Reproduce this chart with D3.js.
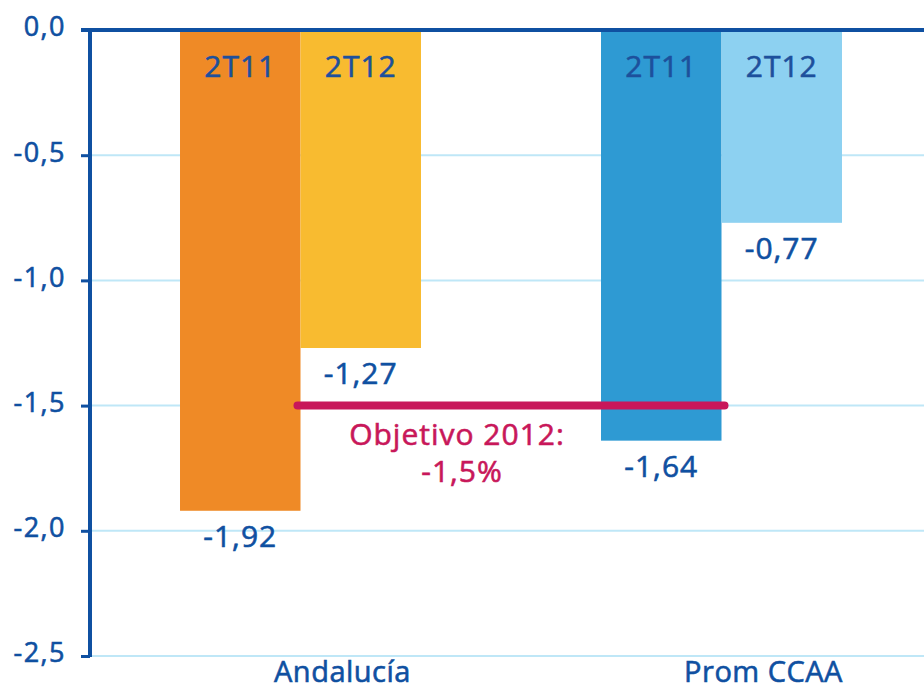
<!DOCTYPE html>
<html>
<head>
<meta charset="utf-8">
<script src="https://cdn.jsdelivr.net/npm/d3@7"></script>
<style>
  body { margin: 0; background: #fff; }
  svg { display: block; font-family: "Open Sans", "Noto Sans", sans-serif; }
  svg text { stroke-width: 0.6px; }
</style>
</head>
<body>
<div id="chart"></div>
<script>
// data
const categories = ["Andalucía", "Prom CCAA"];
const series = ["2T11", "2T12"];
const values = {
    "Andalucía": [-1.92, -1.27],
    "Prom CCAA": [-1.64, -0.77]
};
const barColors = {
    "Andalucía": ["#ef8a26", "#f8bb30"],
    "Prom CCAA": ["#2e9ad3", "#8dd1f1"]
};
const yTicks = [0, -0.5, -1.0, -1.5, -2.0, -2.5];
const target = -1.5;
const targetLabel = ["Objetivo 2012:", "-1,5%"];

const W = 924, H = 685;
const blue = "#0f50a1";
const grid = "#bfe7f7";
const magenta = "#c8175a";
const fmt = (v) => d3.format(".2f")(v).replace(".", ",").replace("−", "-");
const fmtTick = (v) => d3.format(".1f")(v).replace(".", ",").replace("−", "-");

const svg = d3.select("#chart").append("svg")
    .attr("width", W).attr("height", H);

const y = d3.scaleLinear().domain([0, -2.5]).range([30, 656]);
const x0 = d3.scaleBand().domain(categories).range([90, 932])
    .paddingInner(0.4276).paddingOuter(0.2138);
const x1 = d3.scaleBand().domain(series).range([0, x0.bandwidth()]);

// gridlines
svg.append("g").selectAll("line").data(yTicks.slice(1)).join("line")
    .attr("x1", 90).attr("x2", W)
    .attr("y1", d => y(d)).attr("y2", d => y(d))
    .attr("stroke", grid).attr("stroke-width", 2);

// bars
const groups = svg.append("g").selectAll("g").data(categories).join("g")
    .attr("transform", c => `translate(${x0(c)},0)`);

groups.selectAll("rect")
    .data(c => series.map((s, i) => ({c, s, v: values[c][i], color: barColors[c][i]})))
    .join("rect")
    .attr("x", d => x1(d.s))
    .attr("y", y(0))
    .attr("width", x1.bandwidth())
    .attr("height", d => y(d.v) - y(0))
    .attr("fill", d => d.color);

// series names inside bars
groups.selectAll("text.sname")
    .data(c => series.map(s => ({s})))
    .join("text").attr("class", "sname")
    .attr("x", d => x1(d.s) + x1.bandwidth() / 2)
    .attr("y", 77)
    .attr("text-anchor", "middle")
    .attr("font-size", 30)
    .attr("letter-spacing", 1)
    .attr("fill", "#1d509c").attr("stroke", "#1d509c")
    .text(d => d.s);

// value labels under bars
groups.selectAll("text.val")
    .data(c => series.map((s, i) => ({s, v: values[c][i]})))
    .join("text").attr("class", "val")
    .attr("x", d => x1(d.s) + x1.bandwidth() / 2)
    .attr("y", d => y(d.v) + 36)
    .attr("text-anchor", "middle")
    .attr("font-size", 30)
    .attr("letter-spacing", 1)
    .attr("fill", blue).attr("stroke", blue)
    .text(d => fmt(d.v));

// target line
const tx1 = x0(categories[0]) + x1(series[1]) - 3;
const tx2 = x0(categories[1]) + x1(series[1]) + 3;
svg.append("line")
    .attr("x1", tx1).attr("x2", tx2)
    .attr("y1", y(target)).attr("y2", y(target))
    .attr("stroke", magenta).attr("stroke-width", 8)
    .attr("stroke-linecap", "round");

svg.append("g").selectAll("text").data(targetLabel).join("text")
    .attr("x", (d, i) => (tx1 + tx2) / 2 - 54 + i * 5)
    .attr("y", (d, i) => y(target) + 39 + i * 37)
    .attr("text-anchor", "middle")
    .attr("font-size", 30)
    .attr("letter-spacing", 1)
    .attr("fill", magenta).attr("stroke", magenta)
    .text(d => d);

// y axis
const yAxis = svg.append("g")
    .attr("transform", "translate(90,0)")
    .call(d3.axisLeft(y).tickValues(yTicks).tickFormat(fmtTick).tickSize(9).tickPadding(15));
yAxis.select(".domain").remove();
yAxis.selectAll(".tick line").attr("stroke", blue).attr("stroke-width", 3);
yAxis.selectAll(".tick text")
    .attr("font-size", 27).attr("fill", blue).attr("stroke", blue)
    .attr("font-family", "\"Open Sans\", \"Noto Sans\", sans-serif")
    .attr("letter-spacing", 1.5)
    .attr("dy", "0.22em");

svg.append("line")
    .attr("x1", 90).attr("x2", 90)
    .attr("y1", y(0)).attr("y2", y(-2.5) + 1)
    .attr("stroke", blue).attr("stroke-width", 4);
svg.append("line")
    .attr("x1", 81).attr("x2", W)
    .attr("y1", y(0)).attr("y2", y(0))
    .attr("stroke", blue).attr("stroke-width", 4);

// category labels
svg.append("g").selectAll("text").data(categories).join("text")
    .attr("x", c => x0(c) + x0.bandwidth() / 2 + 42)
    .attr("y", 682)
    .attr("text-anchor", "middle")
    .attr("font-size", 29)
    .attr("letter-spacing", 0.5)
    .attr("fill", blue).attr("stroke", blue)
    .text(c => c);
</script>
</body>
</html>
